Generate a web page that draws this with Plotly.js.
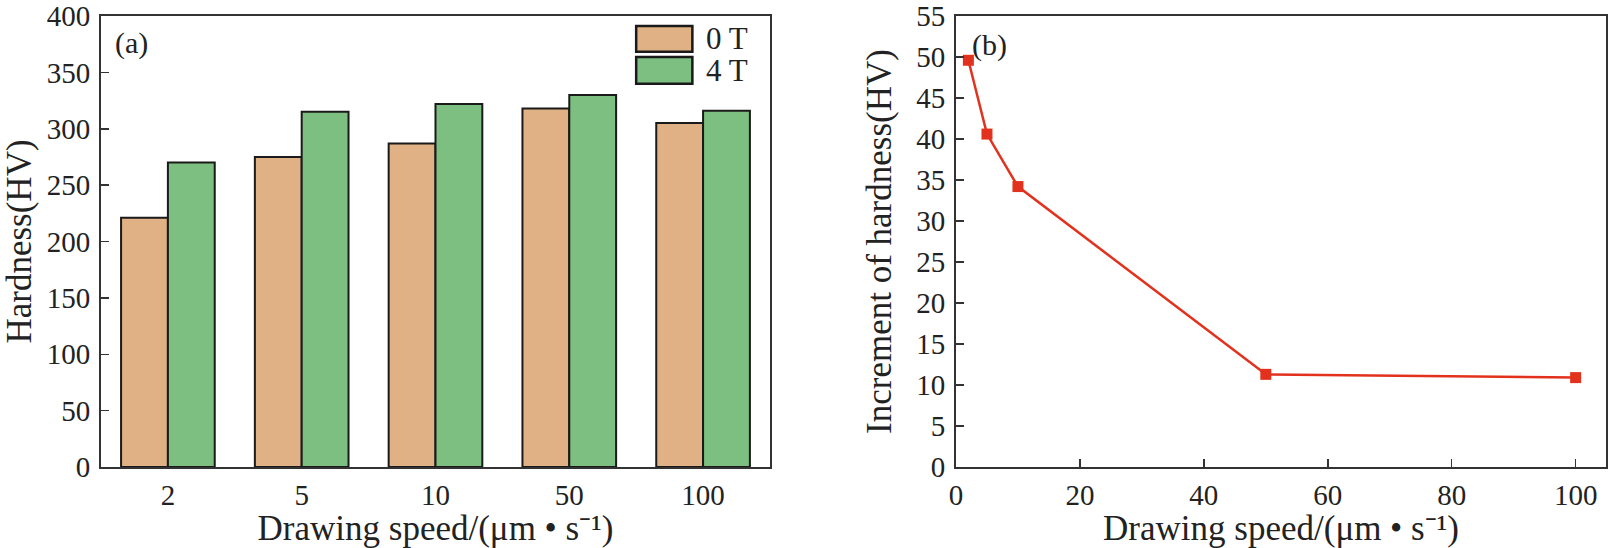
<!DOCTYPE html>
<html>
<head>
<meta charset="utf-8">
<script src="https://cdn.plot.ly/plotly-3.0.1.min.js"></script>
<style>html,body{margin:0;padding:0;background:#fff;}#chart{width:1609px;height:548px;}</style>
</head>
<body>
<div id="chart"></div>
<script>
// Panel (a): hardness vs drawing speed
var speedCategories = ['2', '5', '10', '50', '100'];
var hardness0T = [221, 275, 287, 318, 305];
var hardness4T = [270, 315, 322, 330, 316];
var seriesNames = ['0 T', '4 T'];

// Panel (b): increment of hardness
var speedValues = [2, 5, 10, 50, 100];
var hardnessIncrement = [49.6, 40.6, 34.2, 11.3, 10.9];

var FONT = 'Liberation Serif, Times New Roman, serif';
var colTan = '#DFB184';
var colGreen = '#7DBF80';
var colRed = '#E2321E';
var axisCol = '#333333';

var traces = [
  {type: 'bar', x: speedCategories, y: hardness0T, name: seriesNames[0],
   xaxis: 'x', yaxis: 'y', marker: {color: colTan, line: {color: '#1a1a1a', width: 2}}},
  {type: 'bar', x: speedCategories, y: hardness4T, name: seriesNames[1],
   xaxis: 'x', yaxis: 'y', marker: {color: colGreen, line: {color: '#1a1a1a', width: 2}}},
  {type: 'scatter', mode: 'lines+markers', x: speedValues, y: hardnessIncrement,
   name: 'Increment', xaxis: 'x2', yaxis: 'y2',
   line: {color: colRed, width: 2.5},
   marker: {symbol: 'square', size: 11, color: colRed}}
];

var tickFont = {family: FONT, size: 29, color: '#222'};
var titleFont = {family: FONT, size: 35, color: '#222'};
var xTitle = 'Drawing speed/(μm • s⁻¹)';

var layout = {
  width: 1609, height: 548,
  margin: {l: 101, r: 3, t: 16, b: 81},
  paper_bgcolor: '#fff', plot_bgcolor: '#fff',
  showlegend: false,
  barmode: 'group', bargap: 0.30, bargroupgap: 0,
  font: {family: FONT, color: '#222'},
  xaxis: {domain: [0, 0.4445], type: 'category', range: [-0.5, 4.5],
    showline: true, mirror: true, linecolor: axisCol, linewidth: 2,
    ticks: '', showgrid: false, zeroline: false, tickfont: tickFont, ticklabelstandoff: 1,
    ticklabeloverflow: 'allow',
    title: {text: xTitle, font: titleFont, standoff: 19}},
  yaxis: {domain: [0, 1], range: [0, 400], dtick: 50,
    showline: true, mirror: true, linecolor: axisCol, linewidth: 2,
    ticks: 'inside', ticklen: 8, tickcolor: axisCol, tickwidth: 1.5,
    showgrid: false, zeroline: false, tickfont: tickFont, ticklabelstandoff: 3,
    ticklabeloverflow: 'allow',
    title: {text: 'Hardness(HV)', font: titleFont, standoff: 15}},
  xaxis2: {domain: [0.5681, 1], anchor: 'y2', range: [0, 104.9], dtick: 20,
    showline: true, mirror: true, linecolor: axisCol, linewidth: 2,
    ticks: 'inside', ticklen: 8, tickcolor: axisCol, tickwidth: 1.5,
    showgrid: false, zeroline: false, tickfont: tickFont, ticklabelstandoff: 1,
    ticklabeloverflow: 'allow',
    title: {text: xTitle, font: titleFont, standoff: 19}},
  yaxis2: {domain: [0, 1], anchor: 'x2', range: [0, 55], dtick: 5,
    showline: true, mirror: true, linecolor: axisCol, linewidth: 2,
    ticks: 'inside', ticklen: 8, tickcolor: axisCol, tickwidth: 1.5,
    showgrid: false, zeroline: false, tickfont: tickFont, ticklabelstandoff: 3,
    ticklabeloverflow: 'allow',
    title: {text: 'Increment of hardness(HV)', font: titleFont, standoff: 14}},
  shapes: [
    {type: 'rect', xref: 'x domain', yref: 'y domain', x0: 0.80, x1: 0.884, y0: 0.921, y1: 0.978,
     fillcolor: colTan, line: {color: '#1a1a1a', width: 2.5}},
    {type: 'rect', xref: 'x domain', yref: 'y domain', x0: 0.80, x1: 0.884, y0: 0.850, y1: 0.909,
     fillcolor: colGreen, line: {color: '#1a1a1a', width: 2.5}}
  ],
  annotations: [
    {text: seriesNames[0], xref: 'x domain', yref: 'y domain', x: 0.902, y: 0.95,
     xanchor: 'left', yanchor: 'middle', showarrow: false, font: {family: FONT, size: 31, color: '#222'}},
    {text: seriesNames[1], xref: 'x domain', yref: 'y domain', x: 0.902, y: 0.88,
     xanchor: 'left', yanchor: 'middle', showarrow: false, font: {family: FONT, size: 31, color: '#222'}},
    {text: '(a)', xref: 'x domain', yref: 'y domain', x: 0.018, y: 0.94,
     xanchor: 'left', yanchor: 'middle', showarrow: false, font: {family: FONT, size: 30, color: '#222'}},
    {text: '(b)', xref: 'x2 domain', yref: 'y2 domain', x: 0.022, y: 0.935,
     xanchor: 'left', yanchor: 'middle', showarrow: false, font: {family: FONT, size: 30, color: '#222'}}
  ]
};

Plotly.newPlot('chart', traces, layout, {displayModeBar: false, staticPlot: true});
</script>
</body>
</html>
